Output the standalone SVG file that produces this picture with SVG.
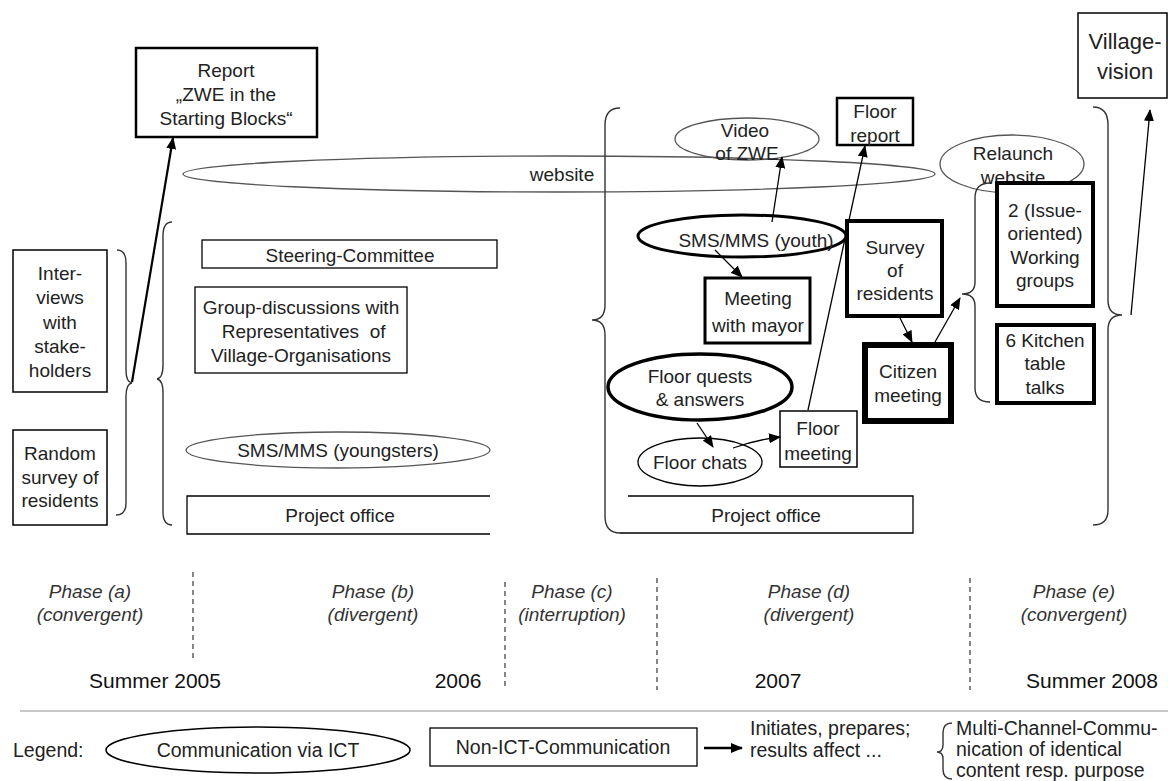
<svg xmlns="http://www.w3.org/2000/svg" width="1168" height="781" viewBox="0 0 1168 781">
<defs>
<marker id="ah" markerUnits="userSpaceOnUse" markerWidth="12" markerHeight="10" viewBox="0 0 12 10" refX="11" refY="5" orient="auto">
<path d="M0,0 L12,5 L0,10 z" fill="#000"/>
</marker>
<style>
text{font-family:"Liberation Sans",Arial,sans-serif;font-size:19px;fill:#222;text-anchor:middle}
.box{fill:#fff;stroke:#000}
.thin{fill:none;stroke:#555;stroke-width:1.3}
.ell{fill:none;stroke:#000}
.br{fill:none;stroke:#333;stroke-width:1.4}
.ph{font-style:italic;font-size:19px;fill:#333}
.yr{font-size:21px;fill:#111}
.lg{font-size:19.5px;fill:#222}
.ar{stroke:#000;fill:none;marker-end:url(#ah)}
.dash{stroke:#444;stroke-width:1.3;stroke-dasharray:5,4}
</style>
</defs>
<rect width="1168" height="781" fill="#fff"/>

<g id="website">
<ellipse class="thin" cx="559" cy="174" rx="376" ry="18"/>
<text x="562" y="181">website</text>
</g>

<g id="report">
<rect class="box" x="136" y="48" width="181" height="89" stroke-width="2.5"/>
<text x="226" y="77">Report</text>
<text x="226" y="101">„ZWE in the</text>
<text x="226" y="125">Starting Blocks“</text>
</g>

<g id="interviews">
<rect class="box" x="13" y="250" width="94" height="142" stroke-width="1.5"/>
<text x="60" y="280">Inter-</text>
<text x="60" y="304">views</text>
<text x="60" y="329">with</text>
<text x="60" y="353">stake-</text>
<text x="60" y="377">holders</text>
</g>

<g id="random-survey">
<rect class="box" x="13" y="430" width="94" height="95" stroke-width="1.5"/>
<text x="60" y="460">Random</text>
<text x="60" y="484">survey of</text>
<text x="60" y="507">residents</text>
</g>

<g id="steering">
<rect class="box" x="202" y="240" width="295" height="28" stroke-width="1.3"/>
<text x="350" y="262">Steering-Committee</text>
</g>

<g id="group-discussions">
<rect class="box" x="195" y="287" width="212" height="86" stroke-width="1.3"/>
<text x="301" y="314">Group-discussions with</text>
<text x="301" y="338" xml:space="preserve"> Representatives  of</text>
<text x="301" y="362">Village-Organisations</text>
</g>

<g id="sms-youngsters">
<ellipse class="thin" cx="338" cy="450" rx="152" ry="18"/>
<text x="338" y="457">SMS/MMS (youngsters)</text>
</g>

<g id="project-office-b">
<path d="M490,496 H187 V534 H490" fill="none" stroke="#000" stroke-width="1.3"/>
<text x="340" y="522">Project office</text>
</g>

<g id="project-office-d">
<path d="M628,496 H913 V533 H620" fill="none" stroke="#000" stroke-width="1.3"/>
<text x="766" y="522">Project office</text>
</g>

<g id="video">
<ellipse class="thin" cx="747" cy="139" rx="72" ry="21"/>
<text x="745" y="137">Video</text>
<text x="747" y="160">of ZWE</text>
</g>

<g id="floor-report">
<rect class="box" x="837" y="98" width="76" height="47" stroke-width="2.5"/>
<text x="875" y="118">Floor</text>
<text x="875" y="142">report</text>
</g>

<g id="sms-youth">
<ellipse class="ell" cx="742" cy="236" rx="104" ry="21" stroke-width="3"/>
<text x="756" y="247">SMS/MMS (youth)</text>
</g>

<g id="meeting-mayor">
<rect class="box" x="705" y="278" width="105" height="65" stroke-width="3"/>
<text x="758" y="305">Meeting</text>
<text x="758" y="332">with mayor</text>
</g>

<g id="survey-residents">
<rect class="box" x="847" y="221" width="95" height="95" stroke-width="4"/>
<text x="895" y="254">Survey</text>
<text x="895" y="277">of</text>
<text x="895" y="300">residents</text>
</g>

<g id="citizen-meeting">
<rect class="box" x="865" y="345" width="86" height="76" stroke-width="6"/>
<text x="908" y="378">Citizen</text>
<text x="908" y="402">meeting</text>
</g>

<g id="floor-quests">
<ellipse class="ell" cx="700" cy="387" rx="92" ry="33" stroke-width="3.5"/>
<text x="700" y="383">Floor quests</text>
<text x="700" y="406">&amp; answers</text>
</g>

<g id="floor-chats">
<ellipse class="ell" cx="700" cy="462" rx="62" ry="24" stroke-width="1.3"/>
<text x="700" y="469">Floor chats</text>
</g>

<g id="floor-meeting">
<rect class="box" x="780" y="411" width="77" height="56" stroke-width="1.5"/>
<text x="818" y="435">Floor</text>
<text x="818" y="460">meeting</text>
</g>

<g id="relaunch">
<ellipse cx="1012" cy="164" rx="72" ry="29" fill="#fff" stroke="#555" stroke-width="1.3"/>
<text x="1013" y="160">Relaunch</text>
<text x="1013" y="184">website</text>
</g>

<g id="working-groups">
<rect class="box" x="997" y="183" width="96" height="123" stroke-width="4"/>
<text x="1045" y="217">2 (Issue-</text>
<text x="1045" y="240">oriented)</text>
<text x="1045" y="264">Working</text>
<text x="1045" y="287">groups</text>
</g>

<g id="kitchen">
<rect class="box" x="997" y="325" width="97" height="78" stroke-width="4"/>
<text x="1045" y="347">6 Kitchen</text>
<text x="1045" y="370">table</text>
<text x="1045" y="394">talks</text>
</g>

<g id="village-vision">
<rect class="box" x="1078" y="13" width="89" height="85" stroke-width="1.5"/>
<text x="1125" y="49" style="font-size:22px">Village-</text>
<text x="1125" y="79" style="font-size:22px">vision</text>
</g>

<g id="braces">
<path class="br" d="M117,250 Q126,250 126,263 L126,370 Q126,382 132,383 Q126,384 126,396 L126,503 Q126,515 116,515"/>
<path class="br" d="M172,222 Q163,222 163,236 L163,365 Q163,378 157,379 Q163,380 163,393 L163,512 Q163,525 172,525"/>
<path class="br" d="M620,108 Q605,108 605,125 L605,305 Q605,320 592,320 Q605,320 605,335 L605,516 Q605,533 620,533"/>
<path class="br" d="M990,183 Q975,183 975,198 L975,282 Q975,294 962,294 Q975,294 975,306 L975,388 Q975,402 990,402"/>
<path class="br" d="M1093,107 Q1108,107 1108,125 L1108,300 Q1108,315 1122,315 Q1108,315 1108,330 L1108,510 Q1108,525 1093,525"/>
</g>

<g id="connectors">
<line class="ar" x1="132" y1="382" x2="173" y2="138" stroke-width="2.2"/>
<line class="ar" x1="772" y1="222" x2="782" y2="157" stroke-width="1.3"/>
<line class="ar" x1="715" y1="250" x2="742" y2="277" stroke-width="1.3"/>
<line class="ar" x1="808" y1="410" x2="865" y2="146" stroke-width="1.3"/>
<line class="ar" x1="900" y1="318" x2="912" y2="342" stroke-width="1.3"/>
<line class="ar" x1="935" y1="342" x2="960" y2="298" stroke-width="1.3"/>
<line class="ar" x1="697" y1="423" x2="713" y2="447" stroke-width="1.3"/>
<path class="ar" d="M733,448 Q755,440 780,437" stroke-width="1.3"/>
<line class="ar" x1="1131" y1="315" x2="1150" y2="110" stroke-width="1.3"/>
</g>

<g id="timeline">
<line class="dash" x1="193" y1="572" x2="193" y2="660"/>
<line class="dash" x1="505" y1="582" x2="505" y2="690"/>
<line class="dash" x1="657" y1="578" x2="657" y2="690"/>
<line class="dash" x1="970" y1="578" x2="970" y2="690"/>
<text class="ph" x="90" y="598">Phase (a)</text>
<text class="ph" x="90" y="621">(convergent)</text>
<text class="ph" x="373" y="598">Phase (b)</text>
<text class="ph" x="373" y="621">(divergent)</text>
<text class="ph" x="572" y="598">Phase (c)</text>
<text class="ph" x="572" y="621">(interruption)</text>
<text class="ph" x="809" y="598">Phase (d)</text>
<text class="ph" x="809" y="621">(divergent)</text>
<text class="ph" x="1074" y="598">Phase (e)</text>
<text class="ph" x="1074" y="621">(convergent)</text>
<text class="yr" x="155" y="688">Summer 2005</text>
<text class="yr" x="458" y="688">2006</text>
<text class="yr" x="778" y="688">2007</text>
<text class="yr" x="1092" y="688">Summer 2008</text>
<line x1="20" y1="711" x2="1168" y2="711" stroke="#c8c8c8" stroke-width="2"/>
</g>

<g id="legend">
<text class="lg" x="13" y="757" style="text-anchor:start">Legend:</text>
<ellipse class="ell" cx="258" cy="750" rx="152" ry="23" stroke-width="1.5"/>
<text class="lg" x="258" y="757">Communication via ICT</text>
<rect class="box" x="430" y="728" width="267" height="38" stroke-width="1.3"/>
<text class="lg" x="563" y="754">Non-ICT-Communication</text>
<line class="ar" x1="704" y1="748" x2="742" y2="748" stroke-width="2.5"/>
<text class="lg" x="750" y="735" style="text-anchor:start">Initiates, prepares;</text>
<text class="lg" x="750" y="757" style="text-anchor:start">results affect ...</text>
<path class="br" d="M952,723 Q943,723 943,733 L943,745 Q943,752 937,752 Q943,752 943,759 L943,769 Q943,779 952,779"/>
<text class="lg" x="956" y="735" style="text-anchor:start">Multi-Channel-Commu-</text>
<text class="lg" x="956" y="756" style="text-anchor:start">nication of identical</text>
<text class="lg" x="956" y="777" style="text-anchor:start">content resp. purpose</text>
</g>
</svg>
